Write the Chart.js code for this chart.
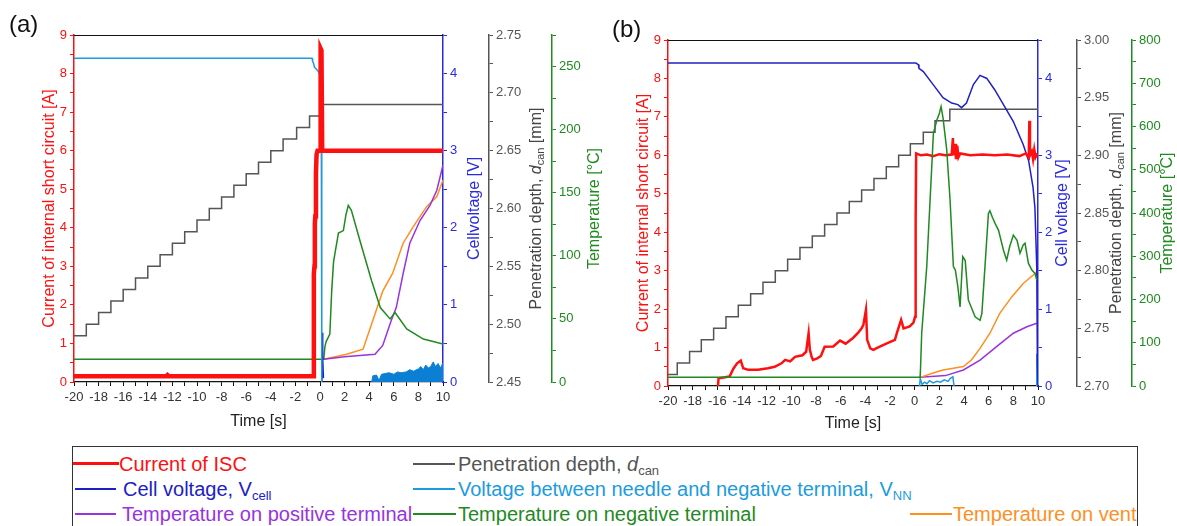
<!DOCTYPE html>
<html>
<head>
<meta charset="utf-8">
<script src="https://cdn.jsdelivr.net/npm/chart.js@4.4.1/dist/chart.umd.min.js"></script>
<style>
  body { margin: 0; background: #fff; }
  #wrap { position: relative; width: 1177px; height: 526px; overflow: hidden; background: #fff;
          font-family: 'Liberation Sans', Arial, sans-serif; }
  canvas { position: absolute; top: 0; }
  #cA { left: 0; }
  #cB { left: 607px; }
  .panel { position: absolute; font-size: 24px; color: #111; line-height: 24px; }
  #legend { position: absolute; left: 72px; top: 446px; width: 1066px; height: 110px;
            border: 1.5px solid #333; box-sizing: border-box; }
  .ln { position: absolute; height: 0; }
  .tx { position: absolute; font-size: 20px; line-height: 24px; white-space: nowrap; transform: translateY(-50%); }
  .tx sub { font-size: 13px; vertical-align: -4px; line-height: 0; }
</style>
</head>
<body>
<div id="wrap">
  <canvas id="cA" width="607" height="434"></canvas>
  <canvas id="cB" width="570" height="436"></canvas>
  <div class="panel" style="left:9px;top:12px;">(a)</div>
  <div class="panel" style="left:612px;top:17px;">(b)</div>

  <div id="legend"></div>
  <div class="ln" style="left:73px;top:462px;width:46px;border-top:3px solid #ff1010"></div>
  <div class="tx" style="left:119px;top:464px;color:#ff1010">Current of ISC</div>
  <div class="ln" style="left:413px;top:463px;width:42px;border-top:2px solid #555"></div>
  <div class="tx" style="left:458px;top:464px;color:#555">Penetration depth, <i>d</i><sub>can</sub></div>

  <div class="ln" style="left:75px;top:488px;width:41px;border-top:2px solid #2020c8"></div>
  <div class="tx" style="left:123px;top:489px;color:#2020c8">Cell voltage, V<sub>cell</sub></div>
  <div class="ln" style="left:413px;top:488px;width:42px;border-top:2px solid #1b9be0"></div>
  <div class="tx" style="left:458px;top:489px;color:#1b9be0">Voltage between needle and negative terminal, V<sub>NN</sub></div>

  <div class="ln" style="left:75px;top:513px;width:41px;border-top:2px solid #9933dd"></div>
  <div class="tx" style="left:122px;top:514px;color:#9933dd">Temperature on positive terminal</div>
  <div class="ln" style="left:413px;top:513px;width:43px;border-top:2px solid #1f8a1f"></div>
  <div class="tx" style="left:458px;top:514px;color:#1f8a1f">Temperature on negative terminal</div>
  <div class="ln" style="left:910px;top:513px;width:42px;border-top:2px solid #ff8f1f"></div>
  <div class="tx" style="left:953px;top:514px;color:#ff8f1f">Temperature on vent</div>
</div>

<script>
// axis ranges
const timeRange = [-20, 10];
const curRange = [0, 9];
const voltRange = [0, 4.5];
const penRangeA = [2.45, 2.75];
const penRangeB = [2.70, 3.00];
const tempRangeA = [0, 275];
const tempRangeB = [0, 800];

// ---- panel (a) ----
const timeCurA = [-20, -15, -12.5, -12.4, -12.3, -8, -0.55, -0.5, -0.45, -0.42, -0.38, -0.33, -0.28, -0.2, 0.0, 0.05, 0.12, 0.18, 10];
const curA     = [0.15, 0.15, 0.15, 0.18, 0.15, 0.15, 0.15, 2.8, 3.0, 4.1, 4.3, 5.4, 5.9, 6.0, 6.0, 8.65, 8.6, 6.0, 6.0];

const timeVoltA = [-20, -0.65, -0.6, -0.5, -0.45, -0.3, -0.1, 0.1, 0.13, 0.16];
const voltA     = [4.2, 4.2, 4.16, 4.12, 4.08, 4.06, 4.02, 3.93, 2.0, 0.0];

const timeCellA = [0.15, 0.18, 0.22, 0.28];
const cellA     = [0.0, 0.64, 0.3, 0.05];

const timeVnnA = [4.2, 4.3, 4.6, 4.8, 5.0, 5.3, 5.6, 6.0, 6.3, 6.6, 7.0, 7.3, 7.6, 8.0, 8.2, 8.4, 8.6, 8.8, 9.0, 9.2, 9.4, 9.6, 9.8, 10];
const vnnA     = [0, 0.08, 0.09, 0.02, 0.1, 0.11, 0.12, 0.1, 0.13, 0.12, 0.13, 0.16, 0.14, 0.17, 0.2, 0.16, 0.22, 0.18, 0.2, 0.26, 0.2, 0.24, 0.18, 0.25];

const timePenA = [-20, -19, -18, -17, -16, -15, -14, -13, -12, -11, -10, -9, -8, -7, -6, -5, -4, -3, -1.9, -0.85, 0.1, 10];
const penA     = [2.49, 2.50, 2.51, 2.52, 2.53, 2.54, 2.55, 2.56, 2.57, 2.58, 2.59, 2.60, 2.61, 2.62, 2.63, 2.64, 2.65, 2.66, 2.67, 2.68, 2.69, 2.69];

const timeNegA = [-20, 0.3, 0.4, 0.5, 0.8, 0.95, 1.1, 1.25, 1.5, 1.9, 2.1, 2.3, 2.55, 3.25, 4.2, 4.9, 5.7, 6.1, 7.05, 8.4, 10];
const negA     = [18, 18, 28, 32, 38, 72, 95, 104, 118, 120, 132, 140, 136, 112, 80, 59, 50, 55, 42, 34, 30];

const timePosA = [0.3, 2.0, 4.47, 5.1, 5.8, 6.2, 6.76, 7.3, 8.13, 8.94, 9.5, 10];
const posA     = [18, 20, 22, 29, 49, 59, 86, 110, 128, 140, 152, 172];

const timeVentA = [0.3, 2.17, 3.5, 4.3, 5.1, 5.9, 6.76, 7.57, 8.67, 9.5, 10];
const ventA     = [18, 22, 26, 49, 72, 86, 110, 123, 139, 147, 160];

// ---- panel (b) ----
const timeCurB = [-15.95, -15.9, -15.5, -15.0, -14.7, -14.4, -14.1, -13.9, -13.5, -12.7, -11.9, -11.35, -10.8, -10.5, -10.1, -9.7, -9.1, -8.8, -8.6, -8.5, -8.35, -8.24, -7.9, -7.6, -7.3, -6.6, -6.05, -5.6, -5.0, -4.6, -4.3, -4.16, -3.95, -3.85, -3.6, -3.35, -3.0, -2.3, -1.6, -1.45, -1.1, -0.9, -0.4, -0.1, 0.03, 0.06, 0.1, 0.12, 0.5, 1.0, 1.5, 2.0, 2.5, 3.0, 3.1, 3.15, 3.3, 3.35, 3.45, 3.55, 3.7, 4.5, 5.5, 6.5, 7.5, 8.5, 9.0, 9.25, 9.3, 9.35, 9.5, 9.6, 9.7, 9.8, 9.95];
const curB     = [0, 0.2, 0.22, 0.25, 0.45, 0.59, 0.66, 0.46, 0.42, 0.42, 0.46, 0.5, 0.59, 0.68, 0.64, 0.76, 0.8, 0.89, 1.37, 0.95, 0.75, 0.68, 0.72, 0.78, 1.02, 1.03, 1.18, 1.1, 1.25, 1.38, 1.5, 1.59, 1.98, 1.2, 0.98, 0.94, 1.0, 1.1, 1.2, 1.37, 1.72, 1.5, 1.55, 1.65, 1.8, 4.3, 4.3, 6.05, 6.0, 6.02, 5.98, 6.03, 6.0, 6.02, 6.45, 6.0, 6.3, 5.9, 6.25, 5.95, 6.05, 6.0, 6.02, 6.0, 6.02, 5.98, 6.05, 5.95, 6.9, 6.0, 6.1, 5.9, 6.15, 5.95, 6.05];

const timeCellB = [-20, 0.1, 0.3, 0.35, 0.7, 1.5, 2.3, 3.0, 3.5, 3.8, 4.2, 4.76, 5.3, 5.85, 6.5, 7.2, 8.0, 8.8, 9.24, 9.6, 9.75, 9.9, 9.95, 10];
const cellB     = [4.2, 4.2, 4.18, 4.13, 4.09, 3.92, 3.75, 3.68, 3.66, 3.62, 3.68, 3.92, 4.04, 4.0, 3.85, 3.66, 3.44, 3.14, 2.93, 2.58, 2.32, 1.54, 0.3, 0];

const timeVnnB = [0.4, 0.45, 0.6, 0.8, 1.0, 1.2, 1.5, 1.8, 2.1, 2.4, 2.7, 2.9, 3.1, 3.15, 3.2, 5, 9.85, 9.9, 9.95, 10];
const vnnB     = [0, 0.1, 0.02, 0.05, 0.03, 0.07, 0.04, 0.06, 0.05, 0.08, 0.06, 0.1, 0.12, 0.05, 0, null, 0, 0.42, 0.1, 0];

const timePenB = [-20, -19.25, -18.25, -17.3, -16.3, -15.3, -14.3, -13.3, -12.3, -11.3, -10.3, -9.3, -8.3, -7.3, -6.3, -5.3, -4.3, -3.3, -2.3, -1.3, -0.35, 0.7, 1.65, 2.85, 10];
const penB     = [2.71, 2.72, 2.73, 2.74, 2.75, 2.76, 2.77, 2.78, 2.79, 2.80, 2.81, 2.82, 2.83, 2.84, 2.85, 2.86, 2.87, 2.88, 2.89, 2.90, 2.91, 2.92, 2.93, 2.94, 2.94];

const timeNegB = [-20, 0.45, 0.57, 0.98, 1.25, 1.52, 1.8, 2.0, 2.14, 2.3, 2.6, 2.87, 3.14, 3.3, 3.5, 3.68, 3.9, 4.1, 4.35, 4.9, 5.3, 5.45, 5.7, 5.98, 6.1, 6.3, 6.52, 6.8, 7.2, 7.46, 7.7, 8.0, 8.3, 8.54, 8.8, 8.95, 9.22, 9.5, 9.76, 9.9];
const negB     = [20, 20, 122, 276, 430, 584, 615, 630, 646, 620, 546, 430, 276, 268, 230, 183, 299, 290, 199, 160, 152, 168, 276, 399, 405, 390, 376, 360, 314, 291, 322, 349, 337, 307, 326, 330, 284, 268, 260, 245];

const timePosB = [0.45, 2.5, 3.95, 5.3, 6.64, 8.0, 9.1, 9.9];
const posB     = [20, 24, 37, 60, 91, 122, 137, 145];

const timeVentB = [0.45, 1.5, 2.3, 3.14, 3.95, 4.6, 5.3, 6.1, 6.9, 7.87, 8.8, 9.76, 9.9];
const ventB     = [20, 30, 37, 41, 45, 60, 87, 122, 168, 206, 237, 260, 265];

// colours
const RED = '#ff1010', BLUE = '#2a2ae0', CELL = '#2020c8', LBLUE = '#1b9be0', VNN = '#0a7fd4';
const GREY = '#555555', GREEN = '#1f8a1f', PURPLE = '#9933dd', ORANGE = '#ff8f1f';

Chart.defaults.font.family = "'Liberation Sans', Arial, sans-serif";

const pts = (ts, vs) => ts.map((t, i) => ({ x: t, y: vs[i] }));

function line(label, ts, vs, color, axis, width, extra) {
  return Object.assign({
    label: label, data: pts(ts, vs), borderColor: color, backgroundColor: color,
    borderWidth: width, pointRadius: 0, yAxisID: axis, tension: 0, fill: false
  }, extra || {});
}

function isMajor(v, major) {
  const r = v / major;
  return Math.abs(r - Math.round(r)) < 1e-6;
}

function vAxis(pos, range, step, major, color, width, fmt, title) {
  const ax = {
    type: 'linear', position: pos, min: range[0], max: range[1],
    grid: { drawOnChartArea: false, drawTicks: true, tickLength: 4, color: color },
    border: { display: true, color: color, width: 1.5 },
    ticks: {
      stepSize: step, autoSkip: false, color: color, font: { size: 13 }, padding: 3,
      callback: v => isMajor(v, major) ? fmt(v) : ''
    },
    title: { display: false },
    afterFit: s => { s.width = width; }
  };
  if (title) {
    ax.title = { display: true, text: title, color: color, font: { size: 16 }, padding: { top: 4, bottom: 0 } };
  }
  return ax;
}

function timeAxis(height) {
  return {
    type: 'linear', position: 'bottom', min: timeRange[0], max: timeRange[1],
    grid: { drawOnChartArea: false, drawTicks: true, tickLength: 4, color: '#111' },
    border: { display: true, color: '#111', width: 1.2 },
    ticks: {
      stepSize: 1, autoSkip: false, maxRotation: 0, color: '#333', font: { size: 13 }, padding: 4,
      callback: v => isMajor(v, 2) ? String(v) : ''
    },
    title: { display: true, text: 'Time [s]', color: '#222', font: { size: 16 }, padding: { top: 0, bottom: 0 } },
    afterFit: s => { s.height = height; }
  };
}

// top frame line + right-hand axis titles (rotated to read bottom-up)
function frameAndTitles(items) {
  return {
    id: 'frameAndTitles',
    afterDraw(chart) {
      const ctx = chart.ctx;
      const area = chart.chartArea;
      ctx.save();
      ctx.strokeStyle = '#111';
      ctx.lineWidth = 1.2;
      ctx.beginPath();
      ctx.moveTo(area.left, area.top + 0.5);
      ctx.lineTo(area.right, area.top + 0.5);
      ctx.stroke();
      const mid = (area.top + area.bottom) / 2;
      items.forEach(item => {
        const s = chart.scales[item.axis];
        ctx.save();
        ctx.translate(s.right - item.off, mid);
        ctx.rotate(-Math.PI / 2);
        ctx.fillStyle = item.color;
        ctx.textBaseline = 'middle';
        ctx.textAlign = 'left';
        let total = 0;
        item.parts.forEach(p => { ctx.font = p.font; total += ctx.measureText(p.text).width; });
        let cx = -total / 2;
        item.parts.forEach(p => {
          ctx.font = p.font;
          ctx.fillText(p.text, cx, p.dy || 0);
          cx += ctx.measureText(p.text).width;
        });
        ctx.restore();
      });
      ctx.restore();
    }
  };
}

const F = "16px 'Liberation Sans', Arial, sans-serif";
const FI = "italic 16px 'Liberation Sans', Arial, sans-serif";
const FS = "11px 'Liberation Sans', Arial, sans-serif";
const penTitle = [{ text: 'Penetration depth, ', font: F }, { text: 'd', font: FI }, { text: 'can', font: FS, dy: 4 }, { text: ' [mm]', font: F }];

const baseOptions = (padLeft, padTop) => ({
  responsive: false, animation: false, devicePixelRatio: 1,
  layout: { padding: { left: padLeft, top: padTop, right: 0, bottom: 3 } },
  plugins: { legend: { display: false }, tooltip: { enabled: false } }
});

// panel (a)
const optA = baseOptions(36, 35);
optA.scales = {
  x: timeAxis(49),
  y: vAxis('left', curRange, 0.5, 1, RED, 38, v => String(v), 'Current of internal short circuit [A]'),
  yV: vAxis('right', voltRange, 0.5, 1, BLUE, 46, v => String(v)),
  yP: vAxis('right', penRangeA, 0.025, 0.05, GREY, 63, v => v.toFixed(2)),
  yT: vAxis('right', tempRangeA, 25, 50, GREEN, 55, v => String(Math.round(v)))
};
new Chart(document.getElementById('cA'), {
  type: 'line',
  data: {
    datasets: [
      line('Current of ISC', timeCurA, curA, RED, 'y', 4.5),
      line('Voltage', timeVoltA, voltA, LBLUE, 'yV', 1.5),
      line('Cell voltage', timeCellA, cellA, CELL, 'yV', 1.5),
      line('V_NN', timeVnnA, vnnA, VNN, 'yV', 1, { fill: 'origin' }),
      line('Temperature on negative terminal', timeNegA, negA, GREEN, 'yT', 1.5),
      line('Temperature on positive terminal', timePosA, posA, PURPLE, 'yT', 1.5),
      line('Temperature on vent', timeVentA, ventA, ORANGE, 'yT', 1.5),
      line('Penetration depth', timePenA, penA, GREY, 'yP', 1.5, { stepped: 'before' })
    ]
  },
  options: optA,
  plugins: [frameAndTitles([
    { axis: 'yV', off: 14, color: BLUE, parts: [{ text: 'Cellvoltage [V]', font: F }] },
    { axis: 'yP', off: 15, color: '#444', parts: penTitle },
    { axis: 'yT', off: 12, color: GREEN, parts: [{ text: 'Temperature [\u00B0C]', font: F }] }
  ])]
});

// panel (b)
const optB = baseOptions(23, 40);
optB.scales = {
  x: timeAxis(47),
  y: vAxis('left', curRange, 0.5, 1, RED, 38, v => String(v), 'Current of internal short circuit [A]'),
  yV: vAxis('right', voltRange, 0.5, 1, BLUE, 39, v => String(v)),
  yP: vAxis('right', penRangeB, 0.025, 0.05, GREY, 55, v => v.toFixed(2)),
  yT: vAxis('right', tempRangeB, 50, 100, GREEN, 45, v => String(Math.round(v)))
};
new Chart(document.getElementById('cB'), {
  type: 'line',
  data: {
    datasets: [
      line('Temperature on negative terminal', timeNegB, negB, GREEN, 'yT', 1.5),
      line('Current of ISC', timeCurB, curB, RED, 'y', 2.5),
      line('Cell voltage', timeCellB, cellB, CELL, 'yV', 1.5),
      line('V_NN', timeVnnB, vnnB, LBLUE, 'yV', 1.5),
      line('Temperature on vent', timeVentB, ventB, ORANGE, 'yT', 1.5),
      line('Temperature on positive terminal', timePosB, posB, PURPLE, 'yT', 1.5),
      line('Penetration depth', timePenB, penB, GREY, 'yP', 1.5, { stepped: 'before' })
    ]
  },
  options: optB,
  plugins: [frameAndTitles([
    { axis: 'yV', off: 14, color: BLUE, parts: [{ text: 'Cell voltage [V]', font: F }] },
    { axis: 'yP', off: 15, color: '#444', parts: penTitle },
    { axis: 'yT', off: 9, color: GREEN, parts: [{ text: 'Temperature [\u00B0C]', font: F }] }
  ])]
});
</script>
</body>
</html>
